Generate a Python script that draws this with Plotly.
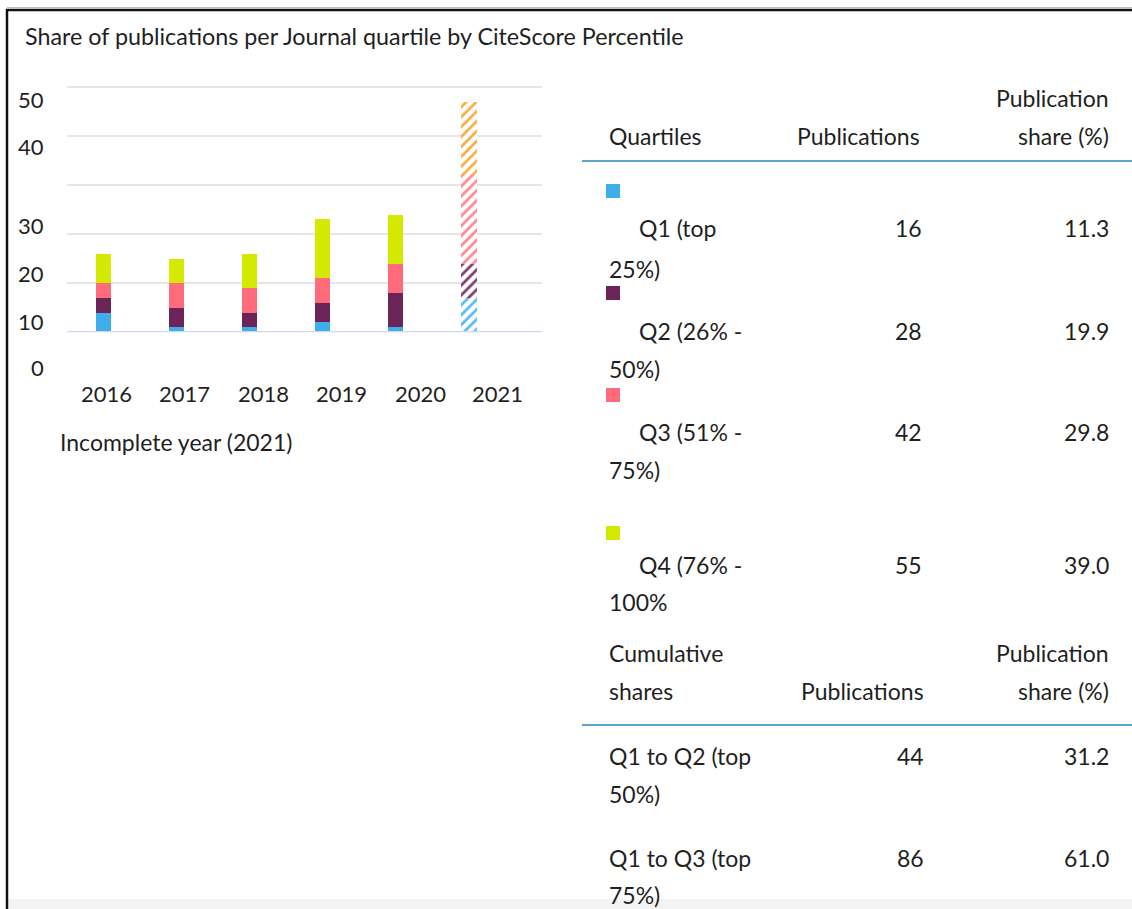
import plotly.graph_objects as go

# ---------------- data ----------------
years = ["2016", "2017", "2018", "2019", "2020", "2021"]
q1 = [4, 1, 1, 2, 1, 7]
q2 = [3, 4, 3, 4, 7, 7]
q3 = [3, 5, 5, 5, 6, 18]
q4 = [6, 5, 7, 12, 10, 15]
incomplete_year = "2021"
y_tick_labels = ["0", "10", "20", "30", "40", "50"]

quartile_names = ["Q1 (top", "Q2 (26% -", "Q3 (51% -", "Q4 (76% -"]
quartile_tails = ["25%)", "50%)", "75%)", "100%"]
quartile_pubs = [16, 28, 42, 55]
quartile_share = ["11.3", "19.9", "29.8", "39.0"]
cum_names = ["Q1 to Q2 (top", "Q1 to Q3 (top"]
cum_tails = ["50%)", "75%)"]
cum_pubs = [44, 86]
cum_share = ["31.2", "61.0"]

title_text = "Share of publications per Journal quartile by CiteScore Percentile"
note_text = "Incomplete year (2021)"

# ---------------- style ----------------
W, H = 1132, 909
FONT = "Lato, 'Open Sans', sans-serif"
FS = 23
TXT = "#1f1f1f"
colors = ["#3daeea", "#6b2458", "#ff6b7b", "#d4e900"]
colors_inc = ["#5cbcf0", "#7d3f70", "#ff8a96", "#f7b045"]
names = ["Q1", "Q2", "Q3", "Q4"]


def px(x):
    return x / W


def py(y):
    return 1 - y / H


series = [q1, q2, q3, q4]
fig = go.Figure()
done_idx = [i for i, y in enumerate(years) if y != incomplete_year]
inc_idx = [i for i, y in enumerate(years) if y == incomplete_year]
for k in range(4):
    fig.add_trace(go.Bar(
        x=[years[i] for i in done_idx], y=[series[k][i] for i in done_idx],
        marker=dict(color=colors[k], line=dict(width=0)),
        width=0.205, name=names[k], showlegend=False))
for k in range(4):
    fig.add_trace(go.Bar(
        x=[years[i] for i in inc_idx], y=[series[k][i] for i in inc_idx],
        marker=dict(color="white", line=dict(width=0),
                    pattern=dict(shape="/", fgcolor=colors_inc[k], bgcolor="white",
                                 fgopacity=1, size=7, solidity=0.4, fillmode="overlay")),
        width=0.23, name=names[k] + " (incomplete)", showlegend=False))

Y0PX = 332.3
UNIT = (332.3 - 87) / 50.0
YTOP = 50.3
fig.update_layout(
    width=W, height=H, barmode="stack",
    margin=dict(l=0, r=0, t=0, b=0),
    paper_bgcolor="white", plot_bgcolor="white",
    showlegend=False,
    xaxis=dict(domain=[px(67), px(542)], type="category", categoryarray=years,
               range=[-0.5, 6.0], showticklabels=False, showgrid=False,
               zeroline=False, showline=False, ticks=""),
    yaxis=dict(domain=[py(Y0PX), py(Y0PX - YTOP * UNIT)], range=[0, YTOP], showticklabels=False,
               showgrid=True, gridcolor="#e6e6e6", gridwidth=2, tick0=0, dtick=10,
               zeroline=False, showline=False, ticks=""),
    font=dict(family=FONT, color=TXT),
)

shapes = []
# baseline
shapes.append(dict(type="line", xref="paper", yref="y", x0=px(67), x1=px(542), y0=0, y1=0,
                   line=dict(color="#d2d6ee", width=2.5), layer="above"))
# frame
shapes.append(dict(type="line", xref="paper", yref="paper", x0=px(7), x1=1, y0=py(7.5), y1=py(7.5),
                   line=dict(color="#bbbbbb", width=1)))
shapes.append(dict(type="line", xref="paper", yref="paper", x0=px(6), x1=1, y0=py(10), y1=py(10),
                   line=dict(color="#111111", width=2.5)))
shapes.append(dict(type="line", xref="paper", yref="paper", x0=px(7), x1=px(7), y0=py(9), y1=0,
                   line=dict(color="#111111", width=2.5)))
shapes.append(dict(type="rect", xref="paper", yref="paper", x0=px(8.5), x1=1, y0=0, y1=py(899),
                   line=dict(width=0), fillcolor="#f3f3f3", layer="below"))
# table rules
for yy in (161, 725):
    shapes.append(dict(type="line", xref="paper", yref="paper", x0=px(582), x1=1, y0=py(yy), y1=py(yy),
                       line=dict(color="#5ea7c8", width=2)))
# legend swatches
sq_tops = [184, 286, 388, 526]
for k in range(4):
    shapes.append(dict(type="rect", xref="paper", yref="paper", x0=px(606), x1=px(620),
                       y0=py(sq_tops[k] + 14), y1=py(sq_tops[k]),
                       line=dict(width=0), fillcolor=colors[k]))
fig.update_layout(shapes=shapes)

ann = []


def text(t, x, y, anchor="left", size=FS):
    ann.append(dict(text=t, x=px(x), y=py(y), xref="paper", yref="paper", xanchor=anchor,
                    yanchor="middle", showarrow=False, font=dict(size=size, family=FONT, color=TXT)))


# title & notes
text(title_text, 23, 36, size=23.3)
text(note_text, 58, 442)
# y tick labels (as displayed in the source, offset from the gridlines)
ytick_pos = [368, 322, 274, 226, 147, 100]
for lab, yy in zip(y_tick_labels, ytick_pos):
    text(lab, 46, yy, anchor="right", size=22)
# x tick labels
xtick_pos = [106.5, 184.5, 263.5, 341.5, 420, 497.5]
for lab, xx in zip(years, xtick_pos):
    text(lab, xx, 393, anchor="center", size=22)

# table header
COLL, COLP, COLS = 607, 924, 1111
text("Publication", COLS, 98, anchor="right")
text("Quartiles", COLL, 136)
text("Publications", COLP - 2, 136, anchor="right")
text("share (%)", COLS, 136, anchor="right")
row_y = [228, 331, 432, 565]
tail_y = [269, 369, 470, 602]
for k in range(4):
    text(quartile_names[k], 637, row_y[k])
    text(str(quartile_pubs[k]), COLP, row_y[k], anchor="right")
    text(quartile_share[k], COLS, row_y[k], anchor="right")
    text(quartile_tails[k], COLL, tail_y[k])

text("Cumulative", COLL, 653)
text("Publication", COLS, 653, anchor="right")
text("shares", COLL, 691)
text("Publications", COLP + 2, 691, anchor="right")
text("share (%)", COLS, 691, anchor="right")
crow_y = [756, 858]
ctail_y = [794, 895]
for k in range(2):
    text(cum_names[k], COLL, crow_y[k])
    text(str(cum_pubs[k]), COLP + 2, crow_y[k], anchor="right")
    text(cum_share[k], COLS, crow_y[k], anchor="right")
    text(cum_tails[k], COLL, ctail_y[k])

fig.update_layout(annotations=ann)
fig.write_html("out.html", config={"displayModeBar": False},
               post_script="document.body.style.margin='0';document.body.style.overflow='hidden';")
